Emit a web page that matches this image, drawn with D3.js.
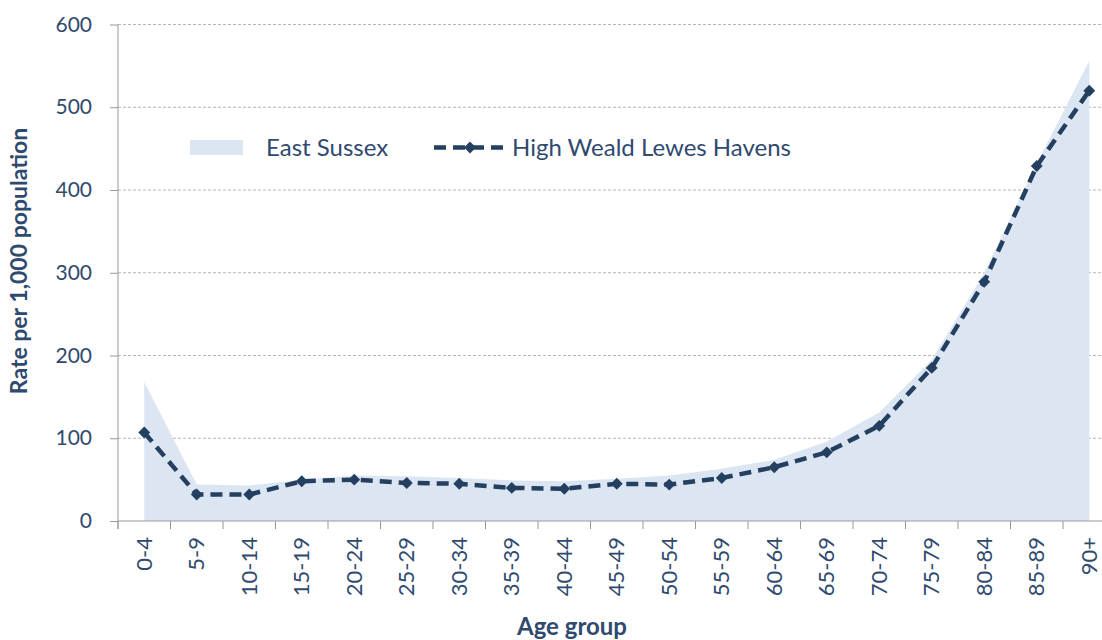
<!DOCTYPE html>
<html><head><meta charset="utf-8">
<script src="https://cdn.jsdelivr.net/npm/d3@7"></script>
<style>body{margin:0;background:#fff}svg{display:block}text{font-family:Lato,"Open Sans",sans-serif}</style>
</head><body><svg id="c" width="1102" height="640"></svg>
<script>
const categories = ["0-4","5-9","10-14","15-19","20-24","25-29","30-34","35-39","40-44","45-49","50-54","55-59","60-64","65-69","70-74","75-79","80-84","85-89","90+"];
const eastSussex = [168,44,43,50,55,54,52,49,48,51,55,63,74,96,131,195,300,432,556];
const hwlh = [107,32,32,48,50,46,45,40,39,45,44,52,65,83,115,185,289,429,520];
const yTicks = [0,100,200,300,400,500,600];

const svg = d3.select("#c");
const txt = "#2f4a6e", dark = "#243f60";
const x = d3.scaleBand().domain(categories).range([118, 1115.5]).padding(0);
const y = d3.scaleLinear().domain([0,600]).range([521, 24.5]);
const cx = d => x(d) + x.bandwidth()/2;

// gridlines
svg.append("g").selectAll("line").data(yTicks.filter(t=>t>0)).join("line")
  .attr("x1",118).attr("x2",1102).attr("y1",d=>y(d)).attr("y2",d=>y(d))
  .attr("stroke","#b5b5b5").attr("stroke-width",1).attr("stroke-dasharray","3,2");

// area
svg.append("path").datum(categories)
  .attr("d", d3.area().x(d=>cx(d)).y0(y(0)).y1((d,i)=>y(eastSussex[i])))
  .attr("fill","#dce6f2");

// axes
const ya = svg.append("g").attr("transform","translate(118,0)")
  .call(d3.axisLeft(y).tickValues(yTicks).tickSize(8).tickPadding(18));
ya.select(".domain").attr("stroke","#999").attr("d","M0,24.5V529");
ya.selectAll(".tick line").attr("stroke","#999");
ya.selectAll(".tick text").attr("fill",txt).style("font-size","21px").style("font-family","Lato,'Open Sans',sans-serif");

const xa = svg.append("g").attr("transform","translate(0,521)")
  .call(d3.axisBottom(x).tickSize(0).tickPadding(0));
xa.select(".domain").attr("stroke","#999").attr("d","M118,0H1102");
xa.selectAll(".tick text").attr("fill",txt).style("font-size","22px").style("font-family","Lato,'Open Sans',sans-serif")
  .attr("transform","rotate(-90)").attr("x",-16).attr("y",0).attr("dy","0.35em").attr("text-anchor","end");
svg.append("g").selectAll("line").data(categories).join("line")
  .attr("x1",d=>x(d)).attr("x2",d=>x(d)).attr("y1",521).attr("y2",529)
  .attr("stroke","#999");

// line
svg.append("path").datum(categories)
  .attr("d", d3.line().x(d=>cx(d)).y((d,i)=>y(hwlh[i])))
  .attr("fill","none").attr("stroke",dark).attr("stroke-width",4.5).attr("stroke-dasharray","12,7");
const sym = d3.symbol().type(d3.symbolDiamond2).size(90);
svg.append("g").selectAll("path").data(categories).join("path")
  .attr("transform",(d,i)=>`translate(${cx(d)},${y(hwlh[i])})`)
  .attr("d", sym).attr("fill",dark);

// titles
svg.append("text").attr("x",572).attr("y",635).attr("text-anchor","middle")
  .attr("fill",txt).style("font-size","24px").style("font-weight","bold").text("Age group");
svg.append("text").attr("transform","translate(27,261) rotate(-90)").attr("text-anchor","middle")
  .attr("fill",txt).style("font-size","23px").style("font-weight","bold").text("Rate per 1,000 population");

// legend
const lg = svg.append("g");
lg.append("rect").attr("x",190).attr("y",140).attr("width",53).attr("height",15).attr("fill","#dce6f2");
lg.append("text").attr("x",266).attr("y",156).attr("fill",txt).style("font-size","24px").text("East Sussex");
lg.append("line").attr("x1",434).attr("x2",505).attr("y1",147.5).attr("y2",147.5)
  .attr("stroke",dark).attr("stroke-width",4.5).attr("stroke-dasharray","12,7");
lg.append("path").attr("transform","translate(470,147.5)").attr("d",sym).attr("fill",dark);
lg.append("text").attr("x",512).attr("y",156).attr("fill",txt).style("font-size","24px").text("High Weald Lewes Havens");
</script></body></html>
